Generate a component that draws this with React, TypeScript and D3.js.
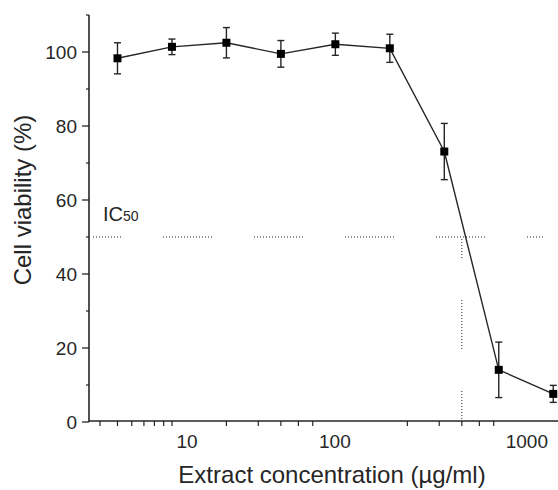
import * as d3 from "d3";
import React from "react";

// concentrations (ug/ml), two-fold dilutions
const concentrations = [5, 10, 20, 40, 80, 160, 320, 640, 1280];
const viability = [98.3, 101.4, 102.5, 99.5, 102.1, 101.0, 73.1, 14.1, 7.6];
const errors = [4.2, 2.1, 4.1, 3.6, 3.0, 3.8, 7.6, 7.5, 2.3];

const xMinorTicks = [4, 5, 6, 7, 8, 9, 10, 20, 30, 40, 50, 60, 200, 300, 400, 500, 600];
const xLabels = [10, 100, 1000];
const yTicks = [0, 20, 40, 60, 80, 100];
const yMinorTicks = [10, 30, 50, 70, 90, 110];
const ic50 = 400;

const W = 558;
const H = 490;
const ink = "#262626";
const font = "'Liberation Sans', Arial, sans-serif";

// the labels in the original sit a bit off their decades
const xLabelNudge = [15, -18, -7];

// dotted dashes: ~50px of dots, 42px gap
function dashPattern() {
  const parts: number[] = [];
  for (let i = 0; i < 17; i++) parts.push(1, 2);
  parts[parts.length - 1] = 42;
  return parts.join(",");
}

export default function App() {
  const x = d3.scaleLog().domain([3.48, 1360]).range([89, 558]);
  const y = d3.scaleLinear().domain([0, 110]).range([422, 15]);

  const line = d3
    .line<number>()
    .x((_, i) => x(concentrations[i]))
    .y((d) => y(d));

  const x0 = x.range()[0];
  const x1 = x.range()[1];
  const y0 = y(0);
  const yTop = y(110);
  const dash = dashPattern();
  const period = 91;

  return (
    <div style={{ position: "fixed", left: 0, top: 0 }}>
      <svg width={W} height={H} style={{ display: "block", background: "#fff" }}>
        {/* IC50 guide lines */}
        <line
          x1={x0 + 2}
          x2={x1 - 13}
          y1={y(50)}
          y2={y(50)}
          stroke={ink}
          strokeWidth={1}
          strokeDasharray={dash}
          strokeDashoffset={period - ((163 - x0 - 2) % period)}
        />
        <line
          x1={x(ic50)}
          x2={x(ic50)}
          y1={y(50)}
          y2={y0}
          stroke={ink}
          strokeWidth={1}
          strokeDasharray={dash}
          strokeDashoffset={28}
        />
        <text x={103} y={221} fontFamily={font} fontSize={20} fill={ink}>
          IC
          <tspan fontSize={14}>50</tspan>
        </text>

        {/* axes */}
        <line x1={x0} x2={x0} y1={yTop} y2={y0} stroke={ink} strokeWidth={1.6} />
        <line x1={x0} x2={x1} y1={y0 - 1} y2={y0 - 1} stroke={ink} strokeWidth={1.6} />
        {yTicks.map((t) => (
          <g key={t}>
            <line x1={x0 - 7} x2={x0} y1={y(t)} y2={y(t)} stroke={ink} strokeWidth={1.3} />
            <text
              x={x0 - 12}
              y={y(t)}
              dy="0.36em"
              textAnchor="end"
              fontFamily={font}
              fontSize={19}
              fill={ink}
            >
              {t}
            </text>
          </g>
        ))}
        {yMinorTicks.map((t) => (
          <line key={t} x1={x0 - 3} x2={x0} y1={y(t)} y2={y(t)} stroke={ink} strokeWidth={1.2} />
        ))}
        {xMinorTicks.map((t) => (
          <line key={t} x1={x(t)} x2={x(t)} y1={y0 - 1} y2={y0 + 4} stroke={ink} strokeWidth={1.2} />
        ))}
        {xLabels.map((t, i) => (
          <text
            key={t}
            x={x(t) + xLabelNudge[i]}
            y={448}
            textAnchor="middle"
            fontFamily={font}
            fontSize={19}
            fill={ink}
          >
            {t}
          </text>
        ))}

        {/* titles */}
        <text x={332} y={483} textAnchor="middle" fontFamily={font} fontSize={24} fill={ink}>
          Extract concentration (µg/ml)
        </text>
        <text
          transform="translate(31,200) rotate(-90)"
          textAnchor="middle"
          fontFamily={font}
          fontSize={24}
          fill={ink}
        >
          Cell viability (%)
        </text>

        {/* data */}
        <path d={line(viability) ?? ""} fill="none" stroke={ink} strokeWidth={1.4} />
        {viability.map((v, i) => {
          const cx = x(concentrations[i]);
          return (
            <g key={i} stroke={ink} strokeWidth={1.4}>
              <line x1={cx} x2={cx} y1={y(v - errors[i])} y2={y(v + errors[i])} />
              <line x1={cx - 3.5} x2={cx + 3.5} y1={y(v - errors[i])} y2={y(v - errors[i])} />
              <line x1={cx - 3.5} x2={cx + 3.5} y1={y(v + errors[i])} y2={y(v + errors[i])} />
              <rect x={cx - 4} y={y(v) - 4} width={8} height={8} fill="#000" stroke="none" />
            </g>
          );
        })}
      </svg>
    </div>
  );
}
